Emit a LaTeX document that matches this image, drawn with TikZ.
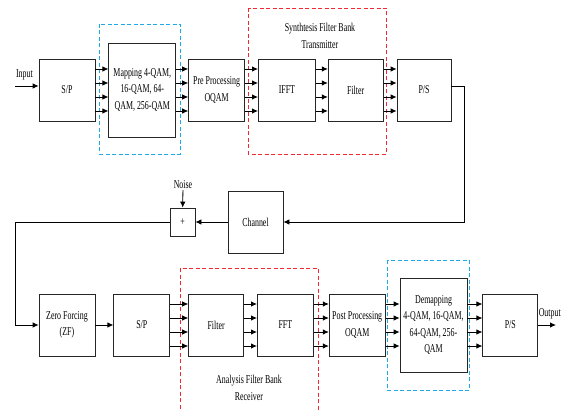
\documentclass[tikz,border=0pt]{standalone}
\usepackage{fontspec}
\setmainfont{Liberation Serif}[FakeStretch=0.66]
\usetikzlibrary{arrows.meta, positioning}
\definecolor{grpred}{RGB}{240,40,50}
\definecolor{grpblue}{RGB}{30,170,230}
\newcommand{\blkfont}{\fontsize{12}{16.5}\selectfont}
% four parallel lines between two blocks
\newcommand{\busto}[2]{\foreach \dy in {-21,-7,7,21} \draw[arrow] ([yshift=\dy pt]#1.east) -- ([yshift=\dy pt]#2.west);}
\tikzset{
  % Block styles
  block/.style={rectangle, minimum width=56pt, minimum height=62pt, text centered, align=center, draw=black!85, line width=0.8pt, inner sep=1pt, font=\blkfont},
  bigblock/.style={block, minimum width=67pt, minimum height=94pt},
  sumblock/.style={block, minimum width=25pt, minimum height=28pt},
  lbl/.style={font=\blkfont, align=center, inner sep=1pt},
  arrow/.style={-{Latex[length=6pt,width=5.5pt]}, line width=0.8pt},
  % Group styles
  group/.style={dash pattern=on 4pt off 2.5pt, line width=0.9pt, draw=#1},
}

\begin{document}
\begin{tikzpicture}[x=1pt, y=-1pt, node distance=13pt]
    \useasboundingbox (0,0) rectangle (561,411);

    % Groups
    \draw[group=grpblue] (99,24) rectangle (180,154);
    \draw[group=grpred] (248,8) rectangle (386,154);
    \node[lbl] (syn) at (320,36) {Synthtesis Filter Bank\\Transmitter};
    \draw[group=grpred] (180,415) -- (180,268) -- (318,268) -- (318,415);
    \node[lbl] (ana) at (249,388) {Analysis Filter Bank\\Receiver};
    \draw[group=grpblue] (387,260) rectangle (469,390);

    % Transmitter
    \node[block] (sp1) at (67,90) {S/P};
    \node[bigblock, right=13pt of sp1] (map) {Mapping 4-QAM,\\16-QAM, 64-\\QAM, 256-QAM};
    \node[block, right=12pt of map] (pre) {Pre Processing\\OQAM};
    \node[block, right=13pt of pre, minimum width=57pt] (ifft) {IFFT};
    \node[block, right=12pt of ifft, minimum width=55pt] (filt1) {Filter};
    \node[block, right=13pt of filt1, minimum width=54pt] (ps1) {P/S};

    % Channel and noise
    \node[block, minimum width=55pt] (ch) at (255.5,222) {Channel};
    \node[sumblock] (plus) at (182.5,222) {+};
    \node[lbl] (noise) at (183,185) {Noise};

    % Receiver
    \node[block] (zf) at (67,325) {Zero Forcing\\(ZF)};
    \node[block, right=18pt of zf] (sp2) {S/P};
    \node[block, right=18pt of sp2, minimum width=55pt] (filt2) {Filter};
    \node[block, right=13pt of filt2] (fft) {FFT};
    \node[block, right=15pt of fft] (post) {Post Processing\\OQAM};
    \node[bigblock, right=14pt of post] (demap) {Demapping\\4-QAM, 16-QAM,\\64-QAM, 256-\\QAM};
    \node[block, right=15pt of demap, minimum width=55pt] (ps2) {P/S};

    \coordinate (in) at (15,86);
    \coordinate (turn) at (464,86);
    \coordinate (back) at (15,222);
    \coordinate (out) at (556,325);

    % === Arrows ===
    \draw[arrow] (in) -- node[lbl, above=5pt, pos=0.4] {Input} (in -| sp1.west);
    \busto{sp1}{map}
    \busto{map}{pre}
    \busto{pre}{ifft}
    \busto{ifft}{filt1}
    \busto{filt1}{ps1}

    % Channel loop
    \draw[arrow] (ps1.east |- turn) -- (turn) |- (ch.east);
    \draw[arrow] (ch) -- (plus);
    \draw[arrow] (noise) -- (plus);
    \draw[arrow] (plus.west) -- (back) |- (zf.west);

    % Receiver
    \draw[arrow] (zf) -- (sp2);
    \busto{sp2}{filt2}
    \busto{filt2}{fft}
    \busto{fft}{post}
    \busto{post}{demap}
    \busto{demap}{ps2}
    \draw[arrow] (ps2) -- node[lbl, above=5pt, pos=0.65] {Output} (out);
\end{tikzpicture}
\end{document}
